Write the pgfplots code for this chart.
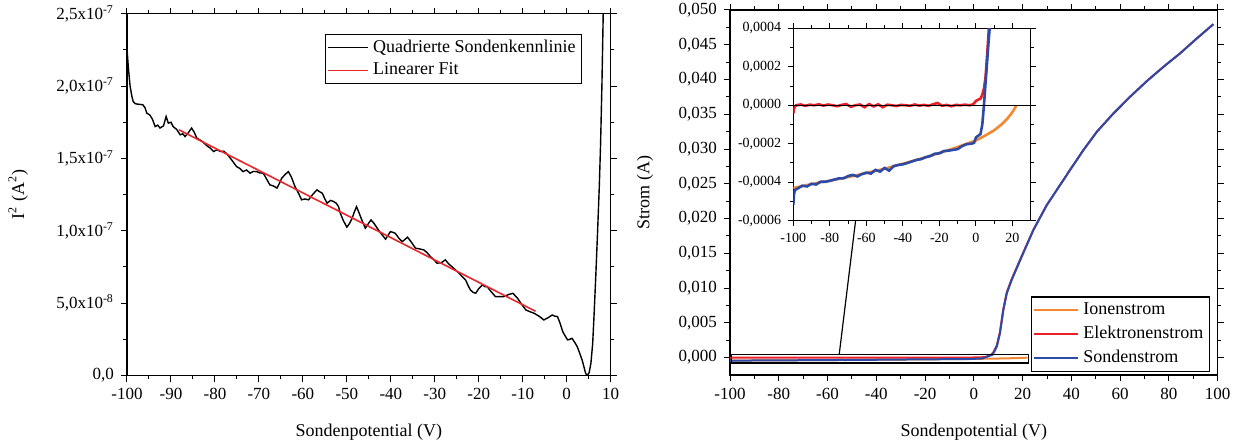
\documentclass[border=0pt]{standalone}
\usepackage{fontspec}
\setmainfont{Liberation Serif}
\usepackage{pgfplots}
\usepackage{pgfplotstable}
\pgfplotsset{compat=1.18}

\definecolor{fitred}{RGB}{232,38,43}
\definecolor{ionorange}{RGB}{244,136,48}
\definecolor{elred}{RGB}{232,32,40}
\definecolor{probeblue}{RGB}{44,74,168}

% squared probe characteristic, I^2 in units of 1e-7 A^2
\pgfplotstableread{
V I
-100 2.26
-99.7 2.13
-99.3 2.00
-98.9 1.93
-98.6 1.894
-98.2 1.88
-97.8 1.876
-96.4 1.871
-95.9 1.85
-95.5 1.813
-94.8 1.80
-94.2 1.77
-93.6 1.72
-93.0 1.73
-92.5 1.71
-91.7 1.725
-91.1 1.79
-90.6 1.744
-90.0 1.75
-89.5 1.72
-88.7 1.70
-87.9 1.663
-87.3 1.67
-86.8 1.651
-86.0 1.68
-85.3 1.71
-84.7 1.68
-84.1 1.64
-83.0 1.62
-81.8 1.587
-81.0 1.57
-80.3 1.548
-79.5 1.56
-78.8 1.548
-78.0 1.55
-77.3 1.532
-76.2 1.49
-75.1 1.444
-74.3 1.43
-73.6 1.409
-72.8 1.42
-72.0 1.398
-71.3 1.41
-70.5 1.409
-69.8 1.40
-69.0 1.398
-68.3 1.36
-67.5 1.317
-66.7 1.31
-65.9 1.295
-65.3 1.33
-64.8 1.364
-64.0 1.39
-63.3 1.409
-62.6 1.37
-61.8 1.306
-61.0 1.26
-60.3 1.214
-59.5 1.22
-58.7 1.214
-57.8 1.25
-56.8 1.283
-56.2 1.27
-55.6 1.26
-55.0 1.22
-54.5 1.191
-53.7 1.21
-53.0 1.202
-52.4 1.19
-51.9 1.167
-51.5 1.122
-50.8 1.07
-50.0 1.025
-49.4 1.05
-48.8 1.087
-48.3 1.13
-47.8 1.167
-47.3 1.13
-46.9 1.098
-46.4 1.06
-45.8 1.018
-45.1 1.05
-44.5 1.075
-43.8 1.05
-43.1 1.018
-42.2 0.98
-41.2 0.942
-40.6 0.97
-40.1 0.994
-39.6 0.99
-39.0 0.983
-38.2 0.95
-37.4 0.925
-36.8 0.94
-36.2 0.956
-35.3 0.92
-34.4 0.88
-33.5 0.875
-32.5 0.868
-31.8 0.85
-31.0 0.822
-30.2 0.80
-29.5 0.776
-28.5 0.78
-27.6 0.799
-26.8 0.77
-26.1 0.752
-25.3 0.73
-24.5 0.707
-23.8 0.685
-23.0 0.66
-22.4 0.62
-21.9 0.591
-21.3 0.575
-20.7 0.568
-20.0 0.60
-19.2 0.626
-18.6 0.614
-18.1 0.614
-17.2 0.58
-16.2 0.545
-15.2 0.545
-14.3 0.545
-13.2 0.56
-12.2 0.568
-11.7 0.55
-11.2 0.534
-10.2 0.49
-9.3 0.453
-8.3 0.44
-7.4 0.43
-6.3 0.41
-5.2 0.384
-4.2 0.40
-3.3 0.418
-2.7 0.41
-2.1 0.407
-1.5 0.36
-0.9 0.303
-0.3 0.27
0.2 0.246
0.7 0.25
1.2 0.257
1.8 0.23
2.4 0.199
3.0 0.15
3.5 0.107
4.0 0.05
4.3 0.015
4.7 0.0
5.1 0.02
5.5 0.084
5.9 0.22
6.2 0.407
6.6 0.68
7.0 0.98
7.4 1.3
7.7 1.6
8.0 2.0
8.3 2.5
8.5 2.8
}\squared

% probe current (A)
\pgfplotstableread{
V I
-100 -0.00052
-99.6 -0.00046
-99 -0.00044
-97.5 -0.000432
-95 -0.000418
-92.5 -0.000422
-90 -0.000408
-87.5 -0.000412
-85 -0.000397
-82.5 -0.000398
-80 -0.000393
-77.5 -0.000386
-75 -0.000380
-72.5 -0.000380
-70 -0.000368
-67.5 -0.000362
-65 -0.000370
-62.5 -0.000358
-60 -0.000350
-57.5 -0.000355
-55 -0.000336
-52.5 -0.000345
-50 -0.000326
-47.5 -0.000340
-45 -0.000316
-42.5 -0.000310
-40 -0.000307
-37.5 -0.000300
-35 -0.000292
-32.5 -0.000284
-30 -0.000280
-27.5 -0.000270
-25 -0.000264
-22.5 -0.000252
-20 -0.000250
-17.5 -0.000238
-15 -0.000236
-12.5 -0.000232
-10 -0.000228
-7.5 -0.000212
-5 -0.000202
-2.5 -0.000200
-1 -0.000195
0 -0.000168
1 -0.000160
2.5 -0.000150
3.5 -0.000100
4.4 0.000000
5.3 0.000120
6.2 0.000235
7.0 0.000340
7.7 0.000420
8.0 0.00063
9.4 0.00158
10.7 0.00351
12.1 0.00685
13.5 0.00925
15.5 0.01116
19.6 0.01451
24.4 0.01835
29.9 0.02194
36.7 0.02553
39.4 0.02697
44.9 0.02984
50.4 0.03247
57.2 0.03511
64.0 0.03750
70.9 0.03976
77.7 0.04181
84.5 0.04374
91.4 0.04590
98.2 0.04795
}\probe

% electron current (A)
\pgfplotstableread{
V I
-100 -0.000043
-99.6 -0.000015
-98.5 0.000000
-96 0.000004
-93.5 -0.000003
-91 0.000003
-88.5 0.000000
-86 0.000005
-83.5 -0.000002
-81 0.000004
-78.5 0.000000
-76 -0.000005
-73.5 0.000002
-71 0.000006
-68.5 -0.000008
-66 0.000000
-63.5 0.000004
-61 -0.000010
-58.5 0.000006
-56 -0.000006
-53.5 0.000005
-51 -0.000010
-48.5 0.000003
-46 0.000000
-43.5 -0.000004
-41 0.000002
-38.5 0.000000
-36 -0.000003
-33.5 0.000004
-31 -0.000002
-28.5 0.000002
-26 -0.000003
-23.5 0.000005
-21 0.000012
-18.5 -0.000003
-16 0.000002
-13.5 -0.000005
-11 0.000002
-8.5 0.000000
-6 0.000003
-3.5 0.000000
-1.5 0.000005
0 0.000022
1.5 0.000030
2.6 0.000035
3.5 0.000055
4.4 0.000087
5.3 0.000148
6.2 0.000270
7.1 0.000400
8.0 0.00077
9.4 0.00172
10.7 0.00366
12.1 0.00700
13.5 0.00938
15.5 0.01128
19.6 0.01459
24.4 0.01837
29.9 0.02194
36.7 0.02553
39.4 0.02697
44.9 0.02984
50.4 0.03247
57.2 0.03511
64.0 0.03750
70.9 0.03976
77.7 0.04181
84.5 0.04374
91.4 0.04590
98.2 0.04795
}\electron

% ion current (A)
\pgfplotstableread{
V I
-100 -0.000430
-95 -0.000420
-90 -0.000410
-85 -0.000400
-80 -0.000392
-75 -0.000383
-70 -0.000373
-65 -0.000363
-60 -0.000352
-55 -0.000341
-50 -0.000330
-45 -0.000317
-40 -0.000304
-35 -0.000291
-30 -0.000277
-25 -0.000263
-20 -0.000248
-15 -0.000233
-10 -0.000217
-5 -0.000200
0 -0.000183
5 -0.000158
10 -0.000130
14 -0.000100
17 -0.000072
19 -0.000048
20.5 -0.000028
21.5 -0.000012
22 -0.000003
}\ion

\pgfplotsset{
  originstyle/.style={
    scale only axis,
    axis line style={line width=0.6pt},
    tick align=outside,
    major tick length=3pt,
    minor tick length=1.8pt,
    every tick/.style={black, line width=0.5pt},
    tick label style={font=\fontsize{8.5}{10}\selectfont},
    label style={font=\fontsize{9}{11}\selectfont},
    scaled ticks=false,
    legend cell align=left,
    legend style={font=\fontsize{9}{11}\selectfont, draw=black, line width=0.6pt,
      inner xsep=1pt, inner ysep=1.5pt,
      nodes={inner xsep=2pt, inner ysep=1.2pt}},
  }
}

\begin{document}
\begin{tikzpicture}
\path[use as bounding box] (0,0) rectangle (624.5pt,223pt);

% ---- left: squared characteristic with linear fit ----
\begin{axis}[originstyle,
  at={(63.5pt,35.25pt)}, anchor=south west,
  width=241.85pt, height=180.9pt,
  xmin=-100, xmax=10, ymin=0, ymax=2.5,
  xtick={-100,-90,-80,-70,-60,-50,-40,-30,-20,-10,0,10},
  xticklabels={-100,-90,-80,-70,-60,-50,-40,-30,-20,-10,0,10},
  minor x tick num=1,
  ytick={0,0.5,1,1.5,2,2.5},
  yticklabels={{0,0},{5,0x10\textsuperscript{-8}},{1,0x10\textsuperscript{-7}},{1,5x10\textsuperscript{-7}},{2,0x10\textsuperscript{-7}},{2,5x10\textsuperscript{-7}}},
  minor y tick num=1,
  xlabel={Sondenpotential (V)},
  ylabel={I\textsuperscript{2} (A\textsuperscript{2})},
  xlabel style={at={(axis description cs:0.5,-0.156)}, anchor=center},
  ylabel style={at={(axis description cs:-0.225,0.5)}, anchor=center},
  legend style={at={(rel axis cs:0.941,0.945)}, anchor=north east, row sep=1.5pt},
  legend image code/.code={\draw[#1] (0pt,0pt) -- (20pt,0pt);},
]
\addplot[black, line width=0.7pt] table[x=V, y=I] {\squared};
\addlegendentry{Quadrierte Sondenkennlinie}
\addplot[fitred, line width=0.8pt] coordinates {(-88.2,1.698) (-7.1,0.444)};
\addlegendentry{Linearer Fit}
\end{axis}

% ---- right: probe, ion and electron currents ----
\begin{axis}[originstyle,
  at={(365pt,35.5pt)}, anchor=south west,
  width=243.85pt, height=182.5pt,
  xmin=-100, xmax=100, ymin=-0.0025, ymax=0.05,
  xtick={-100,-80,-60,-40,-20,0,20,40,60,80,100},
  xticklabels={-100,-80,-60,-40,-20,0,20,40,60,80,100},
  minor x tick num=1,
  ytick={0,0.005,0.01,0.015,0.02,0.025,0.03,0.035,0.04,0.045,0.05},
  yticklabels={{0,000},{0,005},{0,010},{0,015},{0,020},{0,025},{0,030},{0,035},{0,040},{0,045},{0,050}},
  minor y tick num=1,
  xlabel={Sondenpotential (V)},
  ylabel={Strom (A)},
  xlabel style={at={(axis description cs:0.5,-0.156)}, anchor=center},
  ylabel style={at={(axis description cs:-0.174,0.5)}, anchor=center},
  legend style={at={(rel axis cs:0.984,0.009)}, anchor=south east, row sep=2pt},
  legend image code/.code={\draw[#1] (0pt,0pt) -- (22pt,0pt);},
]
\addplot[ionorange, line width=1pt] table[x=V, y=I] {\ion};
\addlegendentry{Ionenstrom}
\addplot[elred, line width=1pt] table[x=V, y=I] {\electron};
\addlegendentry{Elektronenstrom}
\addplot[probeblue, line width=1pt] table[x=V, y=I] {\probe};
\addlegendentry{Sondenstrom}
\draw[line width=0.7pt] (axis cs:-99.3,-0.00076) rectangle (axis cs:22.3,0.00049);
\draw[line width=0.6pt] (axis cs:-55.2,0.00049) -- (axis cs:-48.5,0.0197);
\end{axis}

% ---- inset: enlarged view around zero ----
\begin{axis}[originstyle,
  at={(396.65pt,112.65pt)}, anchor=south west,
  width=118.7pt, height=96.2pt,
  axis background/.style={fill=white},
  tick label style={font=\fontsize{7}{8}\selectfont},
  major tick length=2.5pt, minor tick length=1.5pt,
  xmin=-100, xmax=30, ymin=-0.0006, ymax=0.0004,
  xtick={-100,-80,-60,-40,-20,0,20},
  xticklabels={-100,-80,-60,-40,-20,0,20},
  minor x tick num=1,
  ytick={-0.0006,-0.0004,-0.0002,0,0.0002,0.0004},
  yticklabels={{-0,0006},{-0,0004},{-0,0002},{0,0000},{0,0002},{0,0004}},
  minor y tick num=1,
]
\addplot[ionorange, line width=1.3pt] table[x=V, y=I] {\ion};
\addplot[elred, line width=1.3pt] table[x=V, y=I] {\electron};
\addplot[probeblue, line width=1.3pt] table[x=V, y=I] {\probe};
\addplot[black, line width=0.6pt] coordinates {(-100,0) (30,0)};
\end{axis}
\end{tikzpicture}
\end{document}
